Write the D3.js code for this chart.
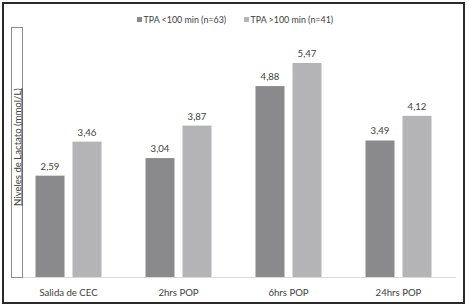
<!DOCTYPE html>
<html>
<head>
<meta charset="utf-8">
<script src="https://cdn.jsdelivr.net/npm/d3@7"></script>
<style>
html,body{margin:0;padding:0;background:#fff;}
svg{display:block;}
text{font-family:Lato,"Open Sans",sans-serif;fill:#404040;}
</style>
</head>
<body>
<svg id="c" width="469" height="307"></svg>
<script>
const categories = ["Salida de CEC", "2hrs POP", "6hrs POP", "24hrs POP"];
const seriesNames = ["TPA <100 min (n=63)", "TPA >100 min (n=41)"];
const seriesA = [2.59, 3.04, 4.88, 3.49];
const seriesB = [3.46, 3.87, 5.47, 4.12];
const valueLabelsA = ["2,59", "3,04", "4,88", "3,49"];
const valueLabelsB = ["3,46", "3,87", "5,47", "4,12"];
const colors = ["#8a8a8c", "#b4b4b6"];
const yTitle = "Niveles de Lactato (mmol/L)";

const svg = d3.select("#c");

// outer border
svg.append("rect").attr("x", 3).attr("y", 3).attr("width", 461).attr("height", 300)
  .attr("fill", "none").attr("stroke", "#2a2a2a").attr("stroke-width", 2);

const baseY = 277;
const y = d3.scaleLinear().domain([0, 6]).range([baseY, baseY - 6 * 39.12]);
const x0 = d3.scaleBand().domain(categories).range([13.5, 453.5]).padding(0);
const x1 = d3.scaleBand().domain([0, 1]).range([22, 88]).paddingInner(8 / 37);

// y title box
svg.append("rect").attr("x", 11.5).attr("y", 27.5).attr("width", 11).attr("height", 250)
  .attr("fill", "#fff").attr("stroke", "#8c8c8c").attr("stroke-width", 1);
svg.append("text")
  .attr("transform", "translate(20.5,147) rotate(-90)")
  .attr("text-anchor", "middle")
  .attr("font-size", 9.6)
  .attr("text-decoration", "underline")
  .text(yTitle);

// baseline
svg.append("line").attr("x1", 23).attr("x2", 456).attr("y1", baseY + 0.5).attr("y2", baseY + 0.5)
  .attr("stroke", "#d9d9d9").attr("stroke-width", 1);

const data = categories.map((c, i) => ({
  cat: c,
  vals: [
    {s: 0, v: seriesA[i], lab: valueLabelsA[i]},
    {s: 1, v: seriesB[i], lab: valueLabelsB[i]}
  ]
}));

const g = svg.append("g").selectAll("g").data(data).join("g")
  .attr("transform", d => `translate(${x0(d.cat)},0)`);

g.selectAll("rect").data(d => d.vals).join("rect")
  .attr("x", d => x1(d.s))
  .attr("width", x1.bandwidth())
  .attr("y", d => y(d.v))
  .attr("height", d => baseY - y(d.v))
  .attr("fill", d => colors[d.s]);

g.selectAll("text.v").data(d => d.vals).join("text")
  .attr("class", "v")
  .attr("x", d => x1(d.s) + x1.bandwidth() / 2)
  .attr("y", d => y(d.v) - 6)
  .attr("text-anchor", "middle")
  .attr("font-size", 9.6)
  .text(d => d.lab);

// category labels
svg.append("g").selectAll("text").data(categories).join("text")
  .attr("x", d => x0(d) + x0.bandwidth() / 2)
  .attr("y", 295.5)
  .attr("text-anchor", "middle")
  .attr("font-size", 9.6)
  .text(d => d);

// legend
const legX = [137, 244];
const leg = svg.append("g").selectAll("g").data(seriesNames).join("g")
  .attr("transform", (d, i) => `translate(${legX[i]},0)`);
leg.append("rect").attr("x", 0).attr("y", 17).attr("width", 5).attr("height", 5)
  .attr("fill", (d, i) => colors[i]);
leg.append("text").attr("x", 6.5).attr("y", 22.5).attr("font-size", 8.9).text(d => d);
</script>
</body>
</html>
